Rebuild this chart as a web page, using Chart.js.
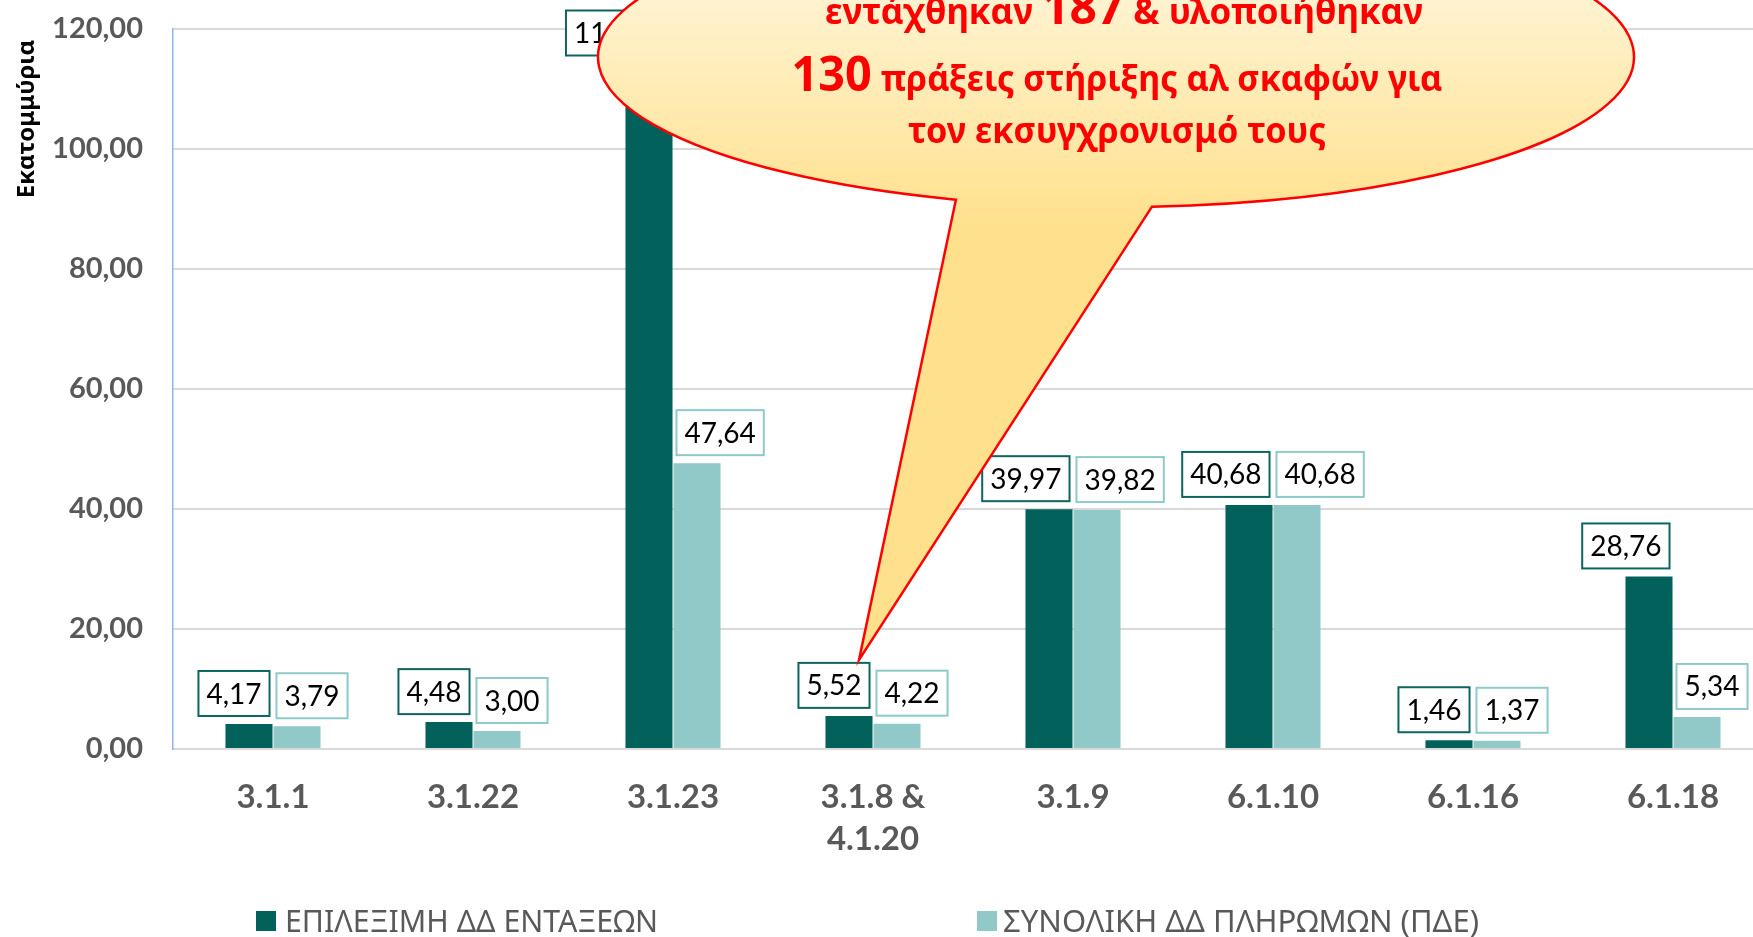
<!DOCTYPE html>
<html>
<head>
<meta charset="utf-8">
<script src="https://cdn.jsdelivr.net/npm/chart.js@4"></script>
<style>
  html, body { margin: 0; padding: 0; background: #fff; width: 1753px; height: 937px; overflow: hidden; }
  #wrap { width: 1790px; height: 937px; position: relative; }
</style>
</head>
<body>
<div id="wrap"><canvas id="chart"></canvas></div>
<script>
const categories = ["3.1.1", "3.1.22", "3.1.23", ["3.1.8 &", "4.1.20"], "3.1.9", "6.1.10", "6.1.16", "6.1.18"];
const seriesNames = ["ΕΠΙΛΕΞΙΜΗ ΔΔ ΕΝΤΑΞΕΩΝ", "ΣΥΝΟΛΙΚΗ ΔΔ ΠΛΗΡΩΜΩΝ (ΠΔΕ)"];
const eligible = [4.17, 4.48, 114.25, 5.52, 39.97, 40.68, 1.46, 28.76];
const payments = [3.79, 3.00, 47.64, 4.22, 39.82, 40.68, 1.37, 5.34];
const yTicks = [0, 20, 40, 60, 80, 100, 120];
const axisTitle = "Εκατομμύρια";
const calloutLines = [
  [["εντάχθηκαν ", false], ["187", true], [" & υλοποιήθηκαν", false]],
  [["130", true], [" πράξεις στήριξης αλ σκαφών για", false]],
  [["τον εκσυγχρονισμό τους", false]]
];

const colors = ["#02615B", "#90C9C8"];
const borders = ["#0E6560", "#8FCACA"];
const fmt = (v) => Number(v).toFixed(2).replace(".", ",");

const boxLabels = {
  id: "boxLabels",
  afterDatasetsDraw(chart) {
    const ctx = chart.ctx;
    ctx.save();
    ctx.font = "28px Lato";
    ctx.textAlign = "center";
    ctx.textBaseline = "middle";
    chart.data.datasets.forEach((ds, di) => {
      chart.getDatasetMeta(di).data.forEach((bar, i) => {
        const text = fmt(ds.data[i]);
        const w = ctx.measureText(text).width + 16;
        const h = 45;
        const left = di === 0 ? bar.x + bar.width / 2 - 3 - w : bar.x - bar.width / 2 + 3;
        const top = bar.y - 8 - h;
        ctx.fillStyle = "#fff";
        ctx.fillRect(left, top, w, h);
        ctx.strokeStyle = borders[di];
        ctx.lineWidth = 2;
        ctx.strokeRect(left, top, w, h);
        ctx.fillStyle = "#000";
        ctx.fillText(text, left + w / 2, top + h / 2 + 1);
      });
    });
    ctx.restore();
  }
};

const extras = {
  id: "extras",
  afterDraw(chart) {
    const ctx = chart.ctx;
    ctx.save();

    // y axis title
    ctx.save();
    ctx.translate(27, 119);
    ctx.rotate(-Math.PI / 2);
    ctx.font = "bold 24px 'Noto Sans'";
    ctx.fillStyle = "#000";
    ctx.textAlign = "center";
    ctx.textBaseline = "middle";
    ctx.fillText(axisTitle, 0, 0);
    ctx.restore();

    // legend
    const legendItems = [
      { box: 256, text: 285, width: 373 },
      { box: 977, text: 1003, width: 476 }
    ];
    ctx.font = "30px 'Noto Sans'";
    ctx.textBaseline = "alphabetic";
    ctx.textAlign = "left";
    chart.data.datasets.forEach((ds, di) => {
      const it = legendItems[di];
      ctx.fillStyle = ds.backgroundColor;
      ctx.fillRect(it.box, 911, 20, 20);
      const nat = ctx.measureText(ds.label).width;
      ctx.save();
      ctx.translate(it.text, 932);
      ctx.scale(it.width / nat, 1);
      ctx.fillStyle = "#595959";
      ctx.fillText(ds.label, 0, 0);
      ctx.restore();
    });

    // callout
    const cx = 1116, cy = 57, rx = 518, ry = 150;
    ctx.beginPath();
    ctx.ellipse(cx, cy, rx, ry, 0, 1.885, 1.5013 + Math.PI * 2, false);
    ctx.lineTo(859, 660);
    ctx.closePath();
    const g = ctx.createLinearGradient(0, -93, 0, 230);
    g.addColorStop(0, "#FFFAEA");
    g.addColorStop(1, "#FFE08C");
    ctx.fillStyle = g;
    ctx.fill();
    ctx.strokeStyle = "#FF0000";
    ctx.lineWidth = 2.5;
    ctx.stroke();

    const lineGeom = [
      { base: 24, center: 1124, width: 598 },
      { base: 91, center: 1117, width: 651 },
      { base: 143, center: 1117, width: 418 }
    ];
    const small = "bold 35px 'Noto Sans'";
    const big = "bold 48px 'Noto Sans'";
    ctx.fillStyle = "#FF0000";
    ctx.textAlign = "left";
    calloutLines.forEach((segs, li) => {
      let nat = 0;
      segs.forEach(([t, b]) => { ctx.font = b ? big : small; nat += ctx.measureText(t).width; });
      const geo = lineGeom[li];
      const sx = geo.width / nat;
      ctx.save();
      ctx.translate(geo.center - geo.width / 2, geo.base);
      ctx.scale(sx, 1);
      let x = 0;
      segs.forEach(([t, b]) => {
        ctx.font = b ? big : small;
        ctx.fillText(t, x, 0);
        x += ctx.measureText(t).width;
      });
      ctx.restore();
    });

    ctx.restore();
  }
};

new Chart(document.getElementById("chart"), {
  type: "bar",
  data: {
    labels: categories,
    datasets: [
      { label: seriesNames[0], data: eligible, backgroundColor: colors[0], borderWidth: 0 },
      { label: seriesNames[1], data: payments, backgroundColor: colors[1], borderWidth: 0 }
    ]
  },
  options: {
    responsive: true,
    maintainAspectRatio: false,
    animation: false,
    layout: { padding: { top: 29, right: 17, left: 0, bottom: 0 } },
    datasets: { bar: { categoryPercentage: 0.48, barPercentage: 0.98 } },
    plugins: { legend: { display: false }, tooltip: { enabled: false } },
    scales: {
      x: {
        grid: { display: false, drawTicks: false },
        border: { color: "#d9d9d9", width: 2 },
        ticks: {
          font: { family: "Lato", weight: "bold", size: 33, lineHeight: 1.25 },
          color: "#595959",
          padding: 28,
          maxRotation: 0,
          autoSkip: false
        },
        afterFit(scale) { scale.height = 188; }
      },
      y: {
        min: 0,
        max: 120,
        afterBuildTicks(scale) { scale.ticks = yTicks.map((v) => ({ value: v })); },
        ticks: {
          callback: (v) => fmt(v),
          font: { family: "Lato", weight: "bold", size: 29 },
          color: "#595959",
          padding: 0
        },
        grid: { color: "#d9d9d9", lineWidth: 2, drawTicks: true, tickLength: 30, tickColor: "rgba(0,0,0,0)" },
        border: { color: "#8db4e2", width: 1.5 },
        afterFit(scale) { scale.width = 173; }
      }
    }
  },
  plugins: [boxLabels, extras]
});
</script>
</body>
</html>
